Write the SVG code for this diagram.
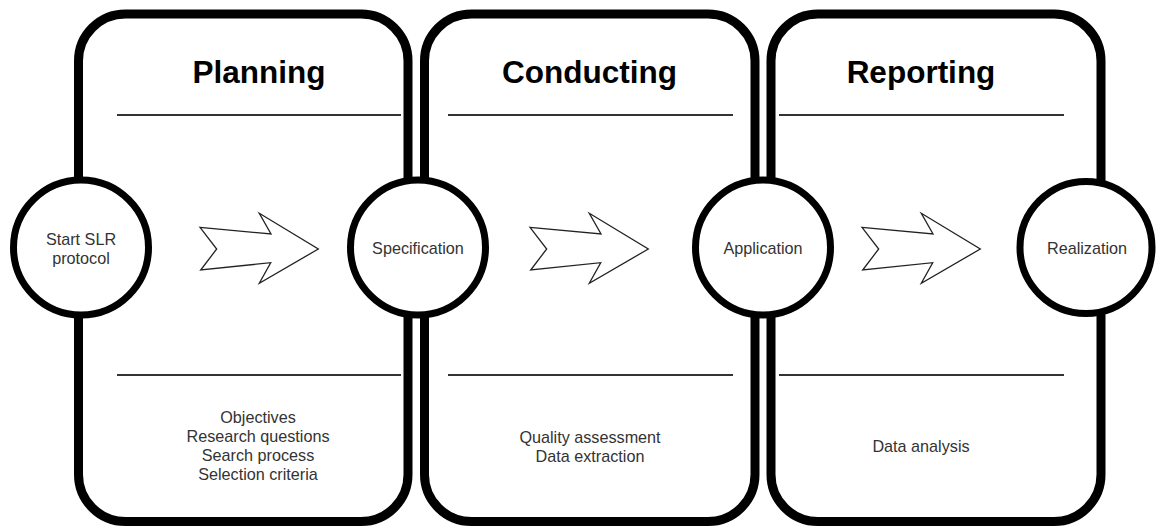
<svg xmlns="http://www.w3.org/2000/svg" width="1156" height="527" viewBox="0 0 1156 527">
<style>
.box{fill:#fff;stroke:#000;stroke-width:9}
.sep{stroke:#333;stroke-width:2}
.circ{fill:#fff;stroke:#000;stroke-width:7}
.arr{fill:#fff;stroke:#222;stroke-width:1.3;stroke-linejoin:miter}
.title{font-family:"Liberation Sans",Arial,sans-serif;font-weight:bold;font-size:31.5px;fill:#000;text-anchor:middle}
.lbl{font-family:"Liberation Sans",Arial,sans-serif;font-size:16.2px;fill:#333;text-anchor:middle}
</style>
<defs>
<path id="bigarrow" d="M200,227.3 L271,234 L259.3,213.3 L318.3,249 L259.3,283.3 L270.7,262.7 L200.7,270 L216.7,249 Z"/>
</defs>
<g id="phase-planning">
<rect class="box" x="78.5" y="14" width="329.5" height="507.5" rx="47" ry="47"/>
<line class="sep" x1="117" y1="115" x2="401" y2="115"/>
<line class="sep" x1="117" y1="375" x2="401" y2="375"/>
<text class="title" x="259" y="83">Planning</text>
<text class="lbl" x="258" y="423">Objectives</text>
<text class="lbl" x="258" y="442">Research questions</text>
<text class="lbl" x="258" y="461">Search process</text>
<text class="lbl" x="258" y="480">Selection criteria</text>
</g>
<g id="phase-conducting">
<rect class="box" x="424.5" y="14" width="330.5" height="507.5" rx="47" ry="47"/>
<line class="sep" x1="448" y1="115" x2="733" y2="115"/>
<line class="sep" x1="448" y1="375" x2="733" y2="375"/>
<text class="title" x="589.5" y="83">Conducting</text>
<text class="lbl" x="590" y="443">Quality assessment</text>
<text class="lbl" x="590" y="462">Data extraction</text>
</g>
<g id="phase-reporting">
<rect class="box" x="771" y="14" width="330" height="507.5" rx="47" ry="47"/>
<line class="sep" x1="779" y1="115" x2="1064" y2="115"/>
<line class="sep" x1="779" y1="375" x2="1064" y2="375"/>
<text class="title" x="921" y="83">Reporting</text>
<text class="lbl" x="921" y="452">Data analysis</text>
</g>
<g id="connectors">
<use href="#bigarrow" class="arr"/>
<use href="#bigarrow" class="arr" transform="translate(330,0)"/>
<use href="#bigarrow" class="arr" transform="translate(662,0)"/>
</g>
<g id="node-start">
<circle class="circ" cx="81" cy="247.5" r="67.5"/>
<text class="lbl" x="81" y="245">Start SLR</text>
<text class="lbl" x="81" y="264">protocol</text>
</g>
<g id="node-specification">
<circle class="circ" cx="418" cy="247.5" r="67.5"/>
<text class="lbl" x="418" y="254">Specification</text>
</g>
<g id="node-application">
<circle class="circ" cx="763" cy="247.5" r="67.5"/>
<text class="lbl" x="763" y="254">Application</text>
</g>
<g id="node-realization">
<circle class="circ" cx="1086" cy="247.5" r="66"/>
<text class="lbl" x="1087" y="254">Realization</text>
</g>
</svg>
